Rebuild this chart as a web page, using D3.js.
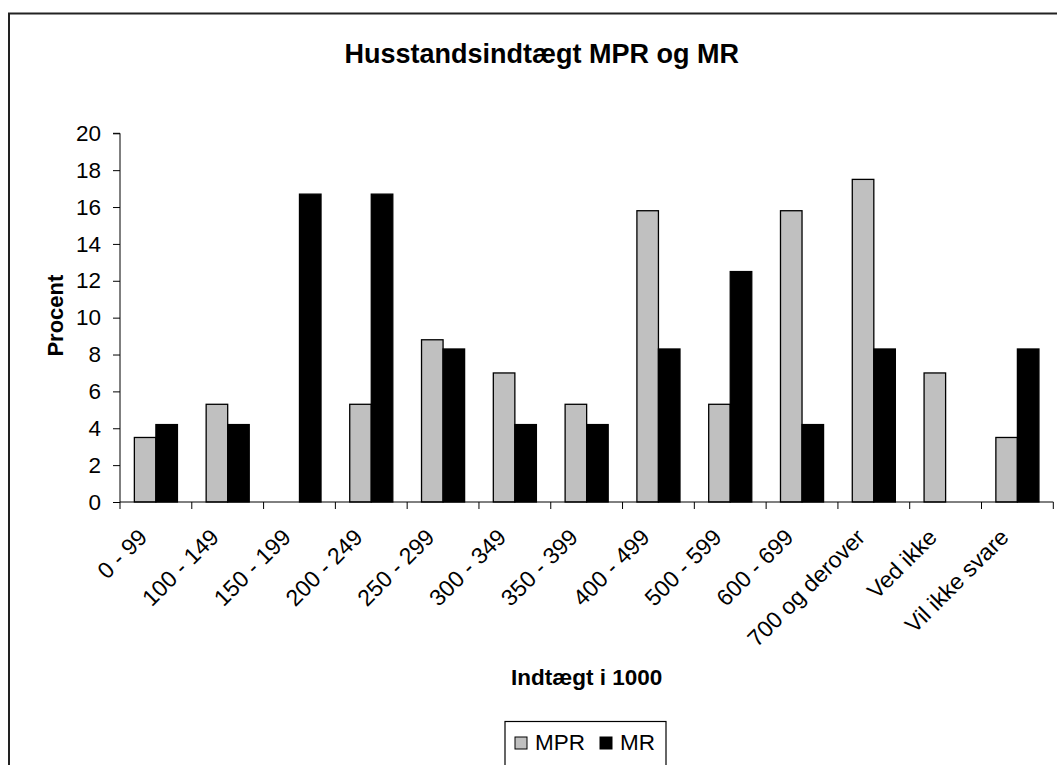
<!DOCTYPE html>
<html>
<head>
<meta charset="utf-8">
<script src="https://cdn.jsdelivr.net/npm/d3@7"></script>
<style>
  html, body { margin: 0; padding: 0; background: #fff; }
  svg { display: block; font-family: "Liberation Sans", Arial, sans-serif; }
</style>
</head>
<body>
<svg id="chart" width="1057" height="765"></svg>
<script>
// Household income categories (in 1000 DKK)
const categories = ["0 - 99", "100 - 149", "150 - 199", "200 - 249", "250 - 299",
  "300 - 349", "350 - 399", "400 - 499", "500 - 599", "600 - 699",
  "700 og derover", "Ved ikke", "Vil ikke svare"];
const seriesNames = ["MPR", "MR"];
const mprValues = [3.5, 5.3, 0, 5.3, 8.8, 7.0, 5.3, 15.8, 5.3, 15.8, 17.5, 7.0, 3.5];
const mrValues  = [4.2, 4.2, 16.7, 16.7, 8.3, 4.2, 4.2, 8.3, 12.5, 4.2, 8.3, 0, 8.3];
const yTicks = [0, 2, 4, 6, 8, 10, 12, 14, 16, 18, 20];
const titleText = "Husstandsindtægt MPR og MR";
const xTitle = "Indtægt i 1000";
const yTitle = "Procent";
const seriesColors = { MPR: "#C0C0C0", MR: "#000000" };

const svg = d3.select("#chart");

// chart frame
svg.append("rect")
  .attr("x", 9).attr("y", 13.5)
  .attr("width", 1100).attr("height", 800)
  .attr("fill", "#fff").attr("stroke", "#222").attr("stroke-width", 2);

const plot = { left: 120, right: 1053.3, top: 133.3, bottom: 502 };

const x = d3.scaleBand().domain(categories).range([plot.left, plot.right]).padding(0);
const groupWidth = x.bandwidth() * 0.6;
const xs = d3.scaleBand().domain(seriesNames).range([0, groupWidth]).padding(0);
const y = d3.scaleLinear().domain([0, 20]).range([plot.bottom, plot.top]);

// title
svg.append("text")
  .attr("x", 541.7).attr("y", 63)
  .attr("text-anchor", "middle")
  .attr("font-size", 27).attr("font-weight", "bold")
  .text(titleText);

// y axis
const yAxis = d3.axisLeft(y).tickValues(yTicks).tickSize(7).tickPadding(12);
const gy = svg.append("g").attr("transform", `translate(${plot.left},0)`).call(yAxis);
gy.select(".domain").attr("stroke", "#000").attr("d", `M-7,${plot.top}H0V${plot.bottom}`);
gy.selectAll(".tick line").attr("stroke", "#000");
gy.selectAll(".tick text").attr("font-size", 22.5).attr("fill", "#000")
  .attr("font-family", "Liberation Sans, Arial, sans-serif");

// bars
const data = categories.map((c, i) => ({ cat: c, MPR: mprValues[i], MR: mrValues[i] }));
const groups = svg.append("g").selectAll("g").data(data).join("g")
  .attr("transform", d => `translate(${x(d.cat) + (x.bandwidth() - groupWidth) / 2},0)`);
groups.selectAll("rect")
  .data(d => seriesNames.map(s => ({ s, v: d[s] })).filter(e => e.v > 0))
  .join("rect")
  .attr("x", d => xs(d.s))
  .attr("y", d => y(d.v))
  .attr("width", xs.bandwidth())
  .attr("height", d => y(0) - y(d.v))
  .attr("fill", d => seriesColors[d.s])
  .attr("stroke", "#000")
  .attr("stroke-width", 1.3);

// x axis: ticks at category boundaries
const gx = svg.append("g");
gx.append("line")
  .attr("x1", plot.left).attr("x2", plot.right)
  .attr("y1", plot.bottom).attr("y2", plot.bottom)
  .attr("stroke", "#000");
const boundaries = categories.map(c => x(c)).concat([plot.right]);
gx.selectAll("line.tick").data(boundaries).join("line")
  .attr("class", "tick")
  .attr("x1", d => d).attr("x2", d => d)
  .attr("y1", plot.bottom).attr("y2", plot.bottom + 7)
  .attr("stroke", "#000");

// rotated category labels
gx.selectAll("text").data(categories).join("text")
  .attr("transform", d => `translate(${x(d) + x.bandwidth() / 2 - 13},${plot.bottom + 31}) rotate(-45)`)
  .attr("text-anchor", "end")
  .attr("dy", "0.35em")
  .attr("font-size", 23)
  .text(d => d);

// axis titles
svg.append("text")
  .attr("x", (plot.left + plot.right) / 2).attr("y", 685)
  .attr("text-anchor", "middle")
  .attr("font-size", 22.5).attr("font-weight", "bold")
  .text(xTitle);

svg.append("text")
  .attr("transform", `translate(63,${(plot.top + plot.bottom) / 2 - 2}) rotate(-90)`)
  .attr("text-anchor", "middle")
  .attr("font-size", 22).attr("font-weight", "bold")
  .text(yTitle);

// legend
const legend = svg.append("g");
legend.append("rect")
  .attr("x", 505).attr("y", 721.5)
  .attr("width", 161).attr("height", 60)
  .attr("fill", "#fff").attr("stroke", "#000").attr("stroke-width", 1.2);
const legendItems = [
  { s: "MPR", sx: 515, tx: 535 },
  { s: "MR", sx: 600, tx: 620 }
];
legendItems.forEach(it => {
  legend.append("rect")
    .attr("x", it.sx).attr("y", 737)
    .attr("width", 12).attr("height", 12)
    .attr("fill", seriesColors[it.s]).attr("stroke", "#000").attr("stroke-width", 1);
  legend.append("text")
    .attr("x", it.tx).attr("y", 750)
    .attr("font-size", 22.5)
    .text(it.s);
});
</script>
</body>
</html>
